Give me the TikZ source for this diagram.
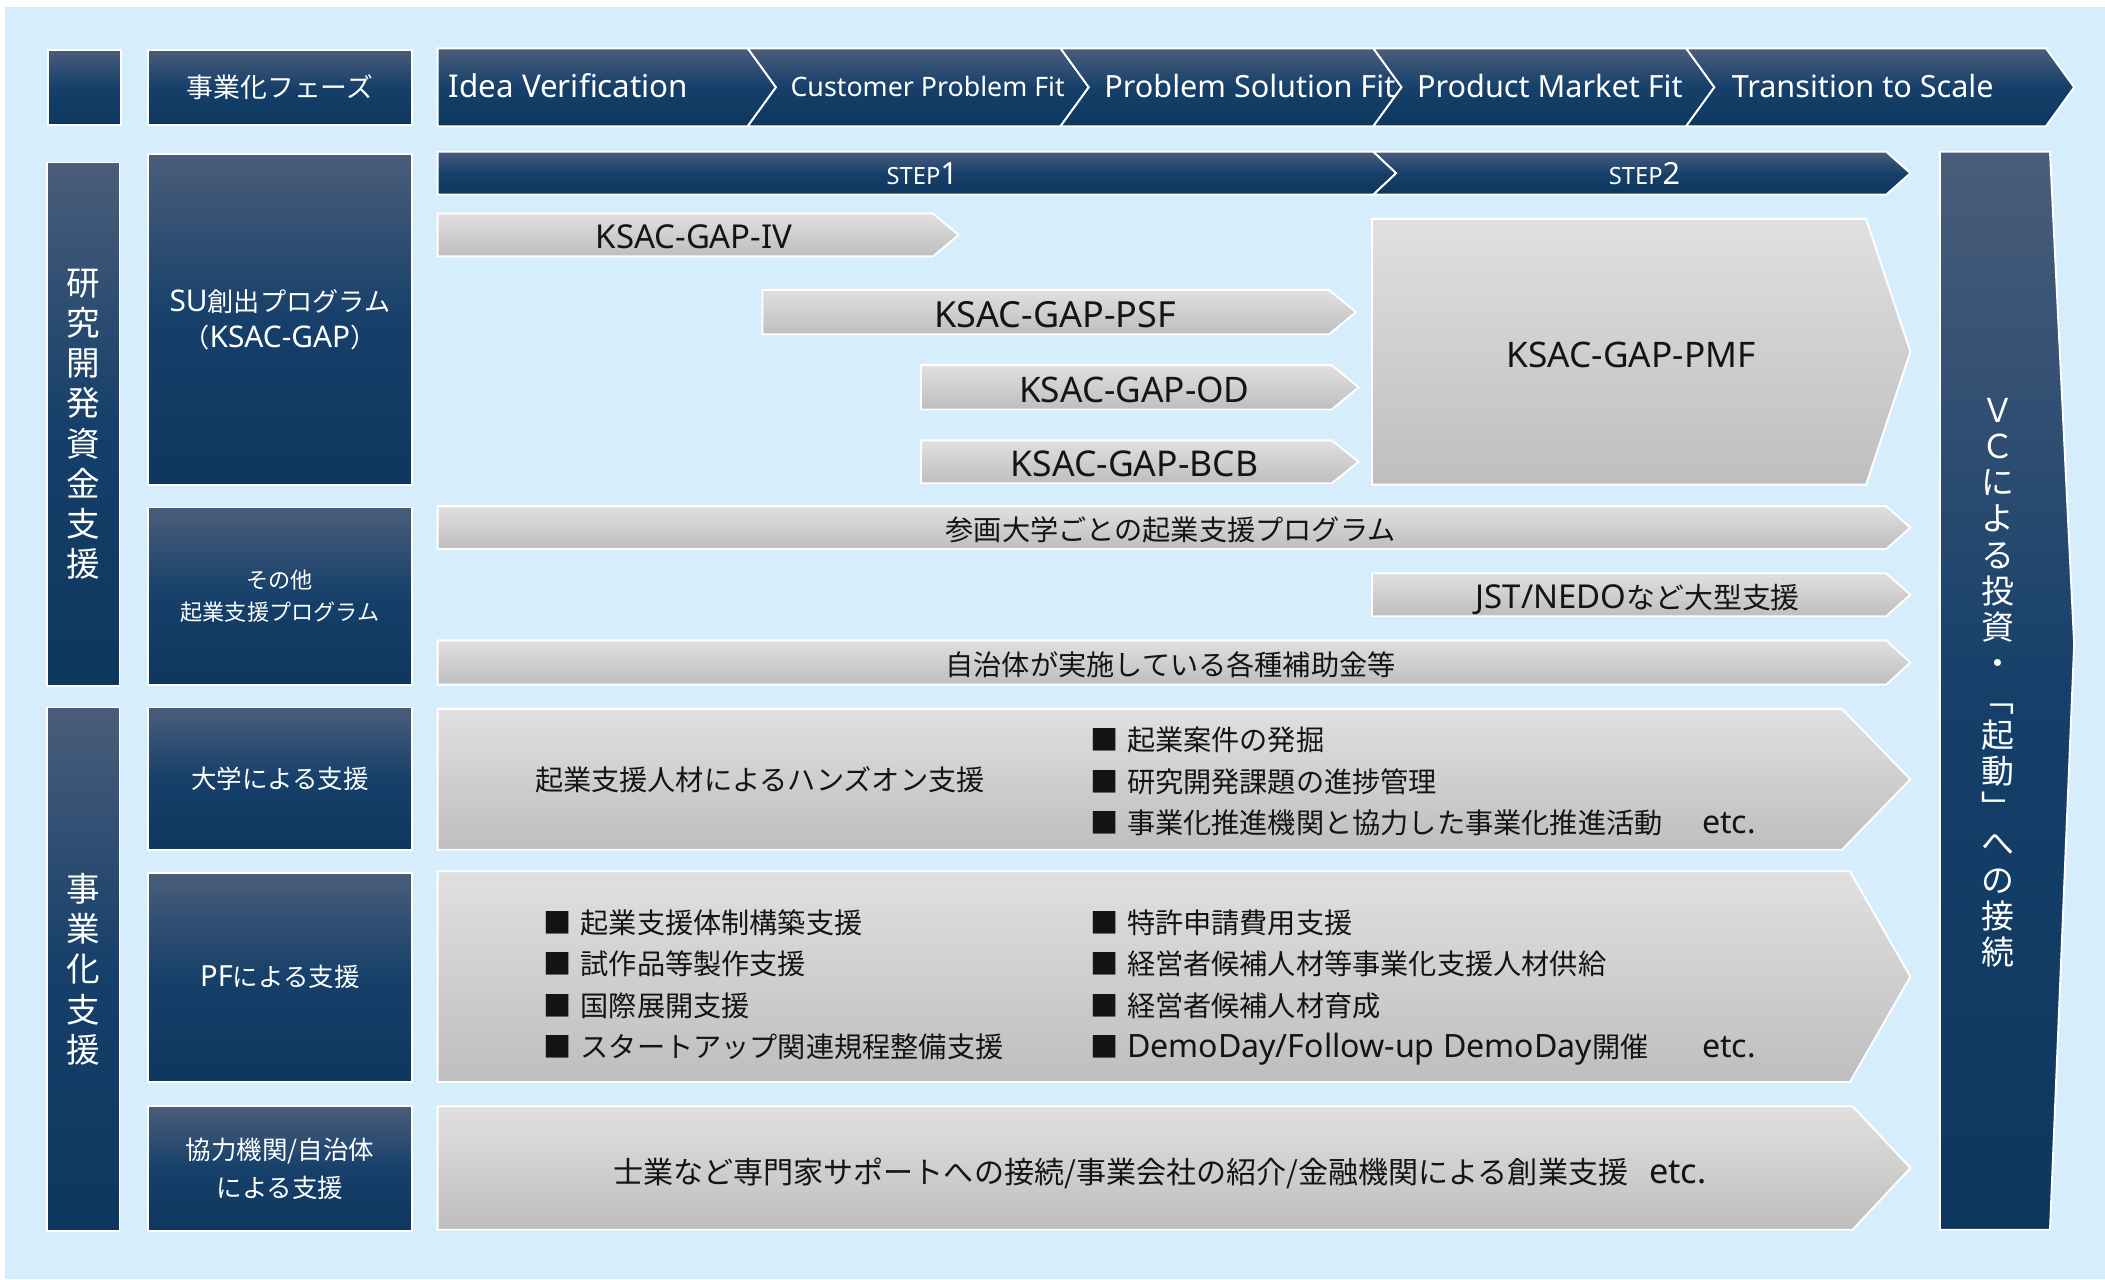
\documentclass[tikz,border=0pt]{standalone}
\usepackage{fontspec}
\setmainfont{Noto Sans CJK JP}
\newfontfamily\latf[Scale=1.14]{Noto Sans}
\definecolor{bgblue}{RGB}{214,237,252}
\definecolor{navyT}{RGB}{74,93,122}
\definecolor{navyM}{RGB}{22,64,106}
\definecolor{navyB}{RGB}{13,55,93}
\definecolor{grayT}{RGB}{224,224,224}
\definecolor{grayB}{RGB}{190,190,190}
\definecolor{txt}{RGB}{20,20,20}
\newcommand\fs[2]{\fontsize{#1}{#2}\selectfont}
\newcommand\bul{■\hspace{0.3em}}
\tikzset{
  navy/.style={draw=white, line width=1.4pt, top color=navyT, bottom color=navyB, middle color=navyM},
  grayf/.style={draw=white, line width=1.4pt, top color=grayT, bottom color=grayB},
  navybox/.style={navy, rectangle, inner sep=0pt, text=white, align=center},
  tf/.style={font=\fs{#1}{#1}, text height={0.88*#1}, text depth={0.12*#1}, inner sep=0pt},
  wt/.style={tf=#1, text=white},
  bt/.style={tf=#1, text=txt},
  bl/.style={bt=21, anchor=west},
}
\begin{document}
\begin{tikzpicture}[x=1pt,y=-1pt]
\useasboundingbox (0,0) rectangle (1568,953);
\fill[white] (0,0) rectangle (1568,953);
\fill[bgblue] (4,5) rectangle (1568,953);

% column 1
\node[navybox, minimum width=54, minimum height=56] (c0) at (63,65) {};
\node[navybox, minimum width=54, minimum height=390, font=\fs{25}{30}] (c1) at (62,316) {研\\究\\開\\発\\資\\金\\支\\援};
\node[navybox, minimum width=54, minimum height=390, font=\fs{25}{30}] (c2) at (62,722) {事\\業\\化\\支\\援};

% column 2
\node[navybox, minimum width=197, minimum height=56, font=\fs{20}{24}] (h1) at (208.5,65) {事業化フェーズ};
\node[navybox, minimum width=197, minimum height=247, font=\fs{19.5}{27}] (b1) at (208.5,238) {{\latf SU}創出プログラム\\（{\latf KSAC-GAP}）};
\node[navybox, minimum width=197, minimum height=132, font=\fs{16.5}{24}] (b2) at (208.5,444) {その他\\起業支援プログラム};
\node[navybox, minimum width=197, minimum height=106, font=\fs{19}{28}] (b3) at (208.5,580) {大学による支援};
\node[navybox, minimum width=197, minimum height=156, font=\fs{19}{28}] (b4) at (208.5,728) {{\latf PF}による支援};
\node[navybox, minimum width=197, minimum height=93, font=\fs{19}{28}] (b5) at (208.5,870.5) {協力機関/自治体\\による支援};

% phase chevrons
\draw[navy] (326,36) -- (557,36) -- (578,65) -- (557,94) -- (326,94) -- cycle;
\draw[navy] (557,36) -- (790,36) -- (811,65) -- (790,94) -- (557,94) -- (578,65) -- cycle;
\draw[navy] (790,36) -- (1023,36) -- (1044,65) -- (1023,94) -- (790,94) -- (811,65) -- cycle;
\draw[navy] (1023,36) -- (1256,36) -- (1277,65) -- (1256,94) -- (1023,94) -- (1044,65) -- cycle;
\draw[navy] (1256,36) -- (1524,36) -- (1545,65) -- (1524,94) -- (1256,94) -- (1277,65) -- cycle;
\node[wt=20.5, anchor=west] (p1) at (334,65) {\latf Idea Verification};
\node[wt=17.5] (p2) at (691,65) {\latf Customer Problem Fit};
\node[wt=20] (p3) at (931,65) {\latf Problem Solution Fit};
\node[wt=20] (p4) at (1154.5,65) {\latf Product Market Fit};
\node[wt=20] (p5) at (1387.5,65) {\latf Transition to Scale};

% steps
\draw[navy] (326,113) -- (1023,113) -- (1040,129) -- (1023,145) -- (326,145) -- cycle;
\draw[navy] (1023,113) -- (1405,113) -- (1423,129) -- (1405,145) -- (1023,145) -- (1040,129) -- cycle;
\node[wt=20] (s1) at (687,130) {\latf{\fs{15.5}{17}STEP}1};
\node[wt=20] (s2) at (1225,130) {\latf{\fs{15.5}{17}STEP}2};

% KSAC arrows
\draw[grayf] (326,159) -- (695,159) -- (714,175) -- (695,191) -- (326,191) -- cycle;
\draw[grayf] (568,216) -- (990,216) -- (1010,232.5) -- (990,249) -- (568,249) -- cycle;
\draw[grayf] (686,272) -- (992,272) -- (1012,288.5) -- (992,305) -- (686,305) -- cycle;
\draw[grayf] (686,328) -- (992,328) -- (1012,344) -- (992,360) -- (686,360) -- cycle;
\draw[grayf] (1022,163) -- (1390,163) -- (1423,262) -- (1390,361) -- (1022,361) -- cycle;
\node[bt=21.5] (k1) at (517,177) {\latf KSAC-GAP-IV};
\node[bt=23.5] (k2) at (786,235) {\latf KSAC-GAP-PSF};
\node[bt=23] (k3) at (845,291) {\latf KSAC-GAP-OD};
\node[bt=23.2] (k4) at (845,346) {\latf KSAC-GAP-BCB};
\node[bt=23] (k5) at (1215,265) {\latf KSAC-GAP-PMF};

% other programs
\draw[grayf] (326,377) -- (1405,377) -- (1423,393) -- (1405,409) -- (326,409) -- cycle;
\draw[grayf] (1022,427) -- (1405,427) -- (1423,443) -- (1405,459) -- (1022,459) -- cycle;
\draw[grayf] (326,477) -- (1405,477) -- (1423,493.5) -- (1405,510) -- (326,510) -- cycle;
\node[bt=21] (o1) at (872,395) {参画大学ごとの起業支援プログラム};
\node[bt=21.5] (o2) at (1220,445) {{\latf JST/NEDO}など大型支援};
\node[bt=21] (o3) at (872,495) {自治体が実施している各種補助金等};

% university support
\draw[grayf] (326,528) -- (1372,528) -- (1423,580.5) -- (1372,633) -- (326,633) -- cycle;
\node[bt=21] (u1) at (566,581) {起業支援人材によるハンズオン支援};
\node[bl] (u2) at (812,551) {\bul 起業案件の発掘};
\node[bl] (u3) at (812,582) {\bul 研究開発課題の進捗管理};
\node[bl] (u4) at (812,613) {\bul 事業化推進機関と協力した事業化推進活動};
\node[bt=21] (u5) at (1288,613) {\latf etc.};

% PF support
\draw[grayf] (326,649) -- (1378,649) -- (1423,727.5) -- (1378,806) -- (326,806) -- cycle;
\node[bl] (f1) at (405,687) {\bul 起業支援体制構築支援};
\node[bl] (f2) at (405,718) {\bul 試作品等製作支援};
\node[bl] (f3) at (405,749) {\bul 国際展開支援};
\node[bl] (f4) at (405,780) {\bul スタートアップ関連規程整備支援};
\node[bl] (g1) at (812,687) {\bul 特許申請費用支援};
\node[bl] (g2) at (812,718) {\bul 経営者候補人材等事業化支援人材供給};
\node[bl] (g3) at (812,749) {\bul 経営者候補人材育成};
\node[bl] (g4) at (812,780) {\bul {\latf DemoDay/Follow-up DemoDay}開催};
\node[bt=21] (g5) at (1288,780) {\latf etc.};

% partner support
\draw[grayf] (326,824) -- (1380,824) -- (1423,870) -- (1380,916) -- (326,916) -- cycle;
\node[bt=22.4] (q1) at (864,873) {士業など専門家サポートへの接続/事業会社の紹介/金融機関による創業支援\hspace{0.7em}{\latf etc.}};

% VC
\draw[navy] (1445,113) -- (1527,113) -- (1545,480) -- (1527,916) -- (1445,916) -- cycle;
\node[text=white, inner sep=0pt, align=center, font=\fs{24.5}{26.9}] (vc) at (1488,508.5) {Ｖ\\Ｃ\\に\\よ\\る\\投\\資\\・\\﹁\\起\\動\\﹂\\へ\\の\\接\\続};
\end{tikzpicture}
\end{document}
